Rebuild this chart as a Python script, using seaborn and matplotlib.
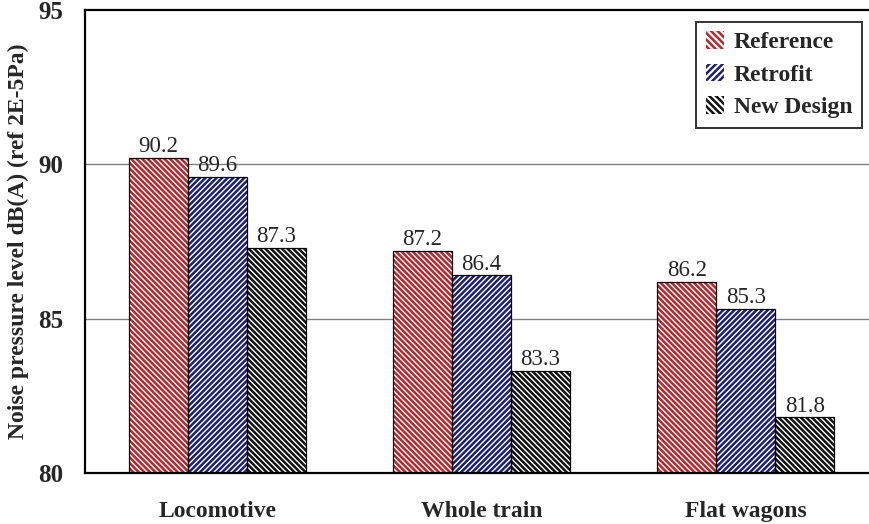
import matplotlib
matplotlib.use("Agg")
import matplotlib.pyplot as plt
import seaborn as sns
import pandas as pd
from matplotlib.patches import Patch

categories = ["Locomotive", "Whole train", "Flat wagons"]
series = ["Reference", "Retrofit", "New Design"]
reference = [90.2, 87.2, 86.2]
retrofit = [89.6, 86.4, 85.3]
new_design = [87.3, 83.3, 81.8]
y_ticks = [80, 85, 90, 95]

colors = {"Reference": "#b8262b", "Retrofit": "#1c1f78", "New Design": "#111111"}
hatches = {"Reference": "\\" * 6, "Retrofit": "/" * 6, "New Design": "\\" * 6}
legend_hatches = {"Reference": "\\" * 5, "Retrofit": "/" * 5, "New Design": "\\" * 5}

df = pd.DataFrame({
    "category": categories * 3,
    "series": [s for s in series for _ in categories],
    "value": reference + retrofit + new_design,
})

sns.set_style("white")
plt.rcParams["font.family"] = ["Liberation Serif", "DejaVu Serif"]
plt.rcParams["hatch.linewidth"] = 1.8

fig = plt.figure(figsize=(8.7, 5.24), dpi=100)
ax = fig.add_axes([85 / 870, 51 / 524, 793 / 870, 463 / 524])

# hatched bars (hatch takes the edge colour)
sns.barplot(data=df, x="category", y="value", hue="series", order=categories,
            hue_order=series, width=0.67, ax=ax, legend=False,
            palette=colors, saturation=1, errorbar=None)
bar_patches = list(ax.patches)
for i, p in enumerate(bar_patches):
    s = series[i // len(categories)]
    p.set_facecolor("white")
    p.set_edgecolor(colors[s])
    p.set_hatch(hatches[s])
    p.set_linewidth(0)

# black outlines on top
sns.barplot(data=df, x="category", y="value", hue="series", order=categories,
            hue_order=series, width=0.67, ax=ax, legend=False,
            fill=False, errorbar=None, palette=["black"] * 3, linewidth=0.9)

for i, p in enumerate(bar_patches):
    s = series[i // len(categories)]
    v = df[df["series"] == s]["value"].iloc[i % len(categories)]
    ax.text(p.get_x() + p.get_width() / 2, v + 0.03, f"{v:.1f}",
            ha="center", va="bottom", fontsize=16.5)

ax.set_ylim(80, 95)
ax.set_xlim(-0.5, 2.5)
ax.set_yticks(y_ticks)
ax.set_yticklabels([str(t) for t in y_ticks], fontsize=18, fontweight="bold")
for t in [85, 90]:
    ax.axhline(t, color="#808080", linewidth=1.0, zorder=0)

ax.set_xticks(range(len(categories)))
ax.set_xticklabels(categories, fontsize=17, fontweight="bold")
ax.set_xticks([0.5, 1.5], minor=True)
ax.tick_params(axis="x", which="major", length=0, pad=20)
ax.tick_params(axis="x", which="minor", length=8, width=0.8, direction="out", color="#555555")
ax.tick_params(axis="y", which="major", length=6, width=0.8, direction="out", pad=10)
ax.set_xlabel("")
ax.set_ylabel("Noise pressure level dB(A) (ref 2E-5Pa)", fontsize=17,
              fontweight="bold", labelpad=6)

for side in ["left", "bottom", "top"]:
    ax.spines[side].set_visible(True)
    ax.spines[side].set_color("black")
    ax.spines[side].set_linewidth(1.6)
ax.spines["right"].set_visible(False)

handles = [Patch(facecolor="white", edgecolor=colors[s], hatch=legend_hatches[s],
                 linewidth=0, label=s) for s in series]
leg = ax.legend(handles=handles, loc="upper right",
                bbox_to_anchor=((862 - 85) / 793, (473 - 22) / 463),
                borderaxespad=0,
                prop={"family": "Liberation Serif", "weight": "bold", "size": 17},
                frameon=True, fancybox=False, edgecolor="black",
                handlelength=0.8, handleheight=0.75, handletextpad=0.4,
                borderpad=0.4, labelspacing=0.45)
leg.get_frame().set_linewidth(1.4)

fig.savefig("out.png", dpi=100)
